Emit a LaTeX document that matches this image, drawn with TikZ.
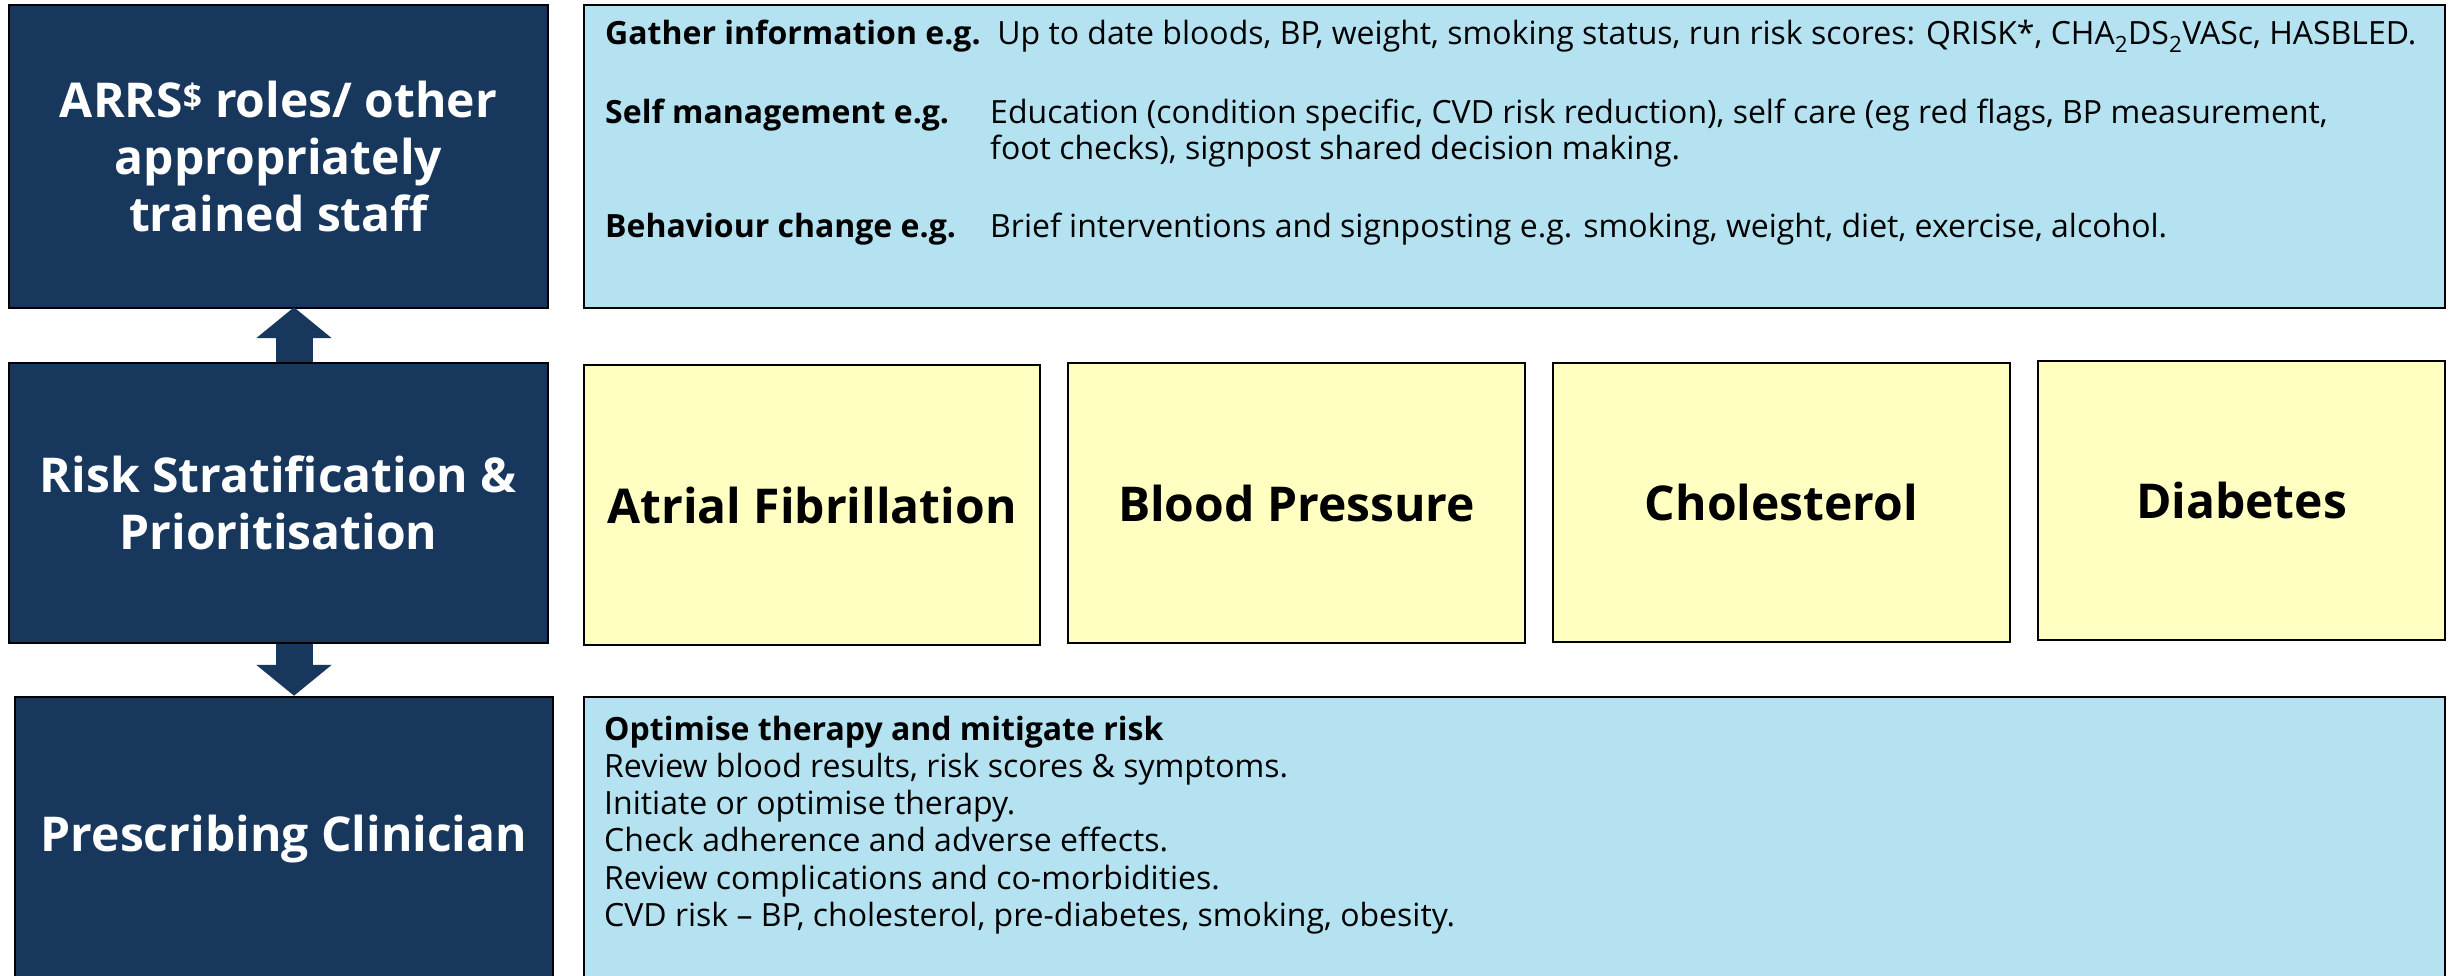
\documentclass[tikz,border=0pt]{standalone}
\usepackage{fontspec}
\setmainfont{Open Sans}
\usetikzlibrary{arrows.meta}
\definecolor{navy}{RGB}{24,55,93}
\definecolor{lblue}{RGB}{180,226,240}
\definecolor{lyellow}{RGB}{255,255,193}
\tikzset{
  darkbox/.style={draw=black, line width=2.5pt, fill=navy, text=white, inner sep=0pt,
    font=\fontsize{48}{57}\selectfont\bfseries, align=center},
  bluebox/.style={draw=black, line width=2.5pt, fill=lblue, inner sep=0pt},
  ybox/.style={draw=black, line width=2.5pt, fill=lyellow, inner sep=0pt,
    font=\fontsize{48}{56}\selectfont\bfseries},
  txt/.style={anchor=base west, inner sep=0pt, font=\fontsize{32}{37}\selectfont},
  bigarrow/.style={draw=navy, line width=37pt, -{Triangle[width=74pt,length=31pt]}}
}
\begin{document}
\begin{tikzpicture}[x=1pt,y=-1pt]
\useasboundingbox (0,0) rectangle (2453,976);
\clip (0,0) rectangle (2453,976);
% left column
\node[darkbox, minimum width=539pt, minimum height=303pt] (A) at (278.5,156.5)
  {ARRS\textsuperscript{\$} roles/ other\\appropriately\\trained staff};
\node[darkbox, minimum width=539pt, minimum height=280pt] (B) at (278.5,503)
  {Risk Stratification \&\\Prioritisation};
\node[darkbox, minimum width=538pt, minimum height=285pt] (C) at (284,839.5)
  {Prescribing Clinician};
% arrows
\draw[bigarrow] ([xshift=15.5pt]B.north) -- ([xshift=15.5pt,yshift=2pt]A.south);
\draw[bigarrow] ([xshift=15.5pt]B.south) -- ([xshift=10pt]C.north);
% top blue box
\node[bluebox, minimum width=1861pt, minimum height=303pt] (T) at (1514.5,156.5) {};
\node[txt] (t1) at (605,45) {\textbf{Gather information e.g.}\ \ Up to date bloods, BP, weight, smoking status, run risk scores: QRISK*, CHA\textsubscript{2}DS\textsubscript{2}VASc, HASBLED.};
\node[txt] (t2) at (605,124) {\textbf{Self management e.g.}};
\node[txt] (t3) at (990,124) {Education (condition specific, CVD risk reduction), self care (eg red flags, BP measurement,};
\node[txt] (t4) at (990,160) {foot checks), signpost shared decision making.};
\node[txt] (t5) at (605,238) {\textbf{Behaviour change e.g.}};
\node[txt] (t6) at (990,238) {Brief interventions and signposting e.g. smoking, weight, diet, exercise, alcohol.};
% yellow boxes
\node[ybox, minimum width=456pt, minimum height=280pt] (AF) at (812,505) {Atrial Fibrillation};
\node[ybox, minimum width=457pt, minimum height=280pt] (BP) at (1296.5,503) {Blood Pressure};
\node[ybox, minimum width=457pt, minimum height=279pt] (CH) at (1781.5,502.5) {Cholesterol};
\node[ybox, minimum width=407pt, minimum height=279pt] (DI) at (2241.5,500.5) {Diabetes};
% bottom blue box
\node[bluebox, minimum width=1861pt, minimum height=290pt] (L) at (1514.5,842) {};
\node[txt] (b1) at (604,740) {\textbf{Optimise therapy and mitigate risk}};
\node[txt] (b2) at (604,777.3) {Review blood results, risk scores \& symptoms.};
\node[txt] (b3) at (604,814.6) {Initiate or optimise therapy.};
\node[txt] (b4) at (604,851.9) {Check adherence and adverse effects.};
\node[txt] (b5) at (604,889.2) {Review complications and co-morbidities.};
\node[txt] (b6) at (604,926.5) {CVD risk -- BP, cholesterol, pre-diabetes, smoking, obesity.};
\end{tikzpicture}
\end{document}
